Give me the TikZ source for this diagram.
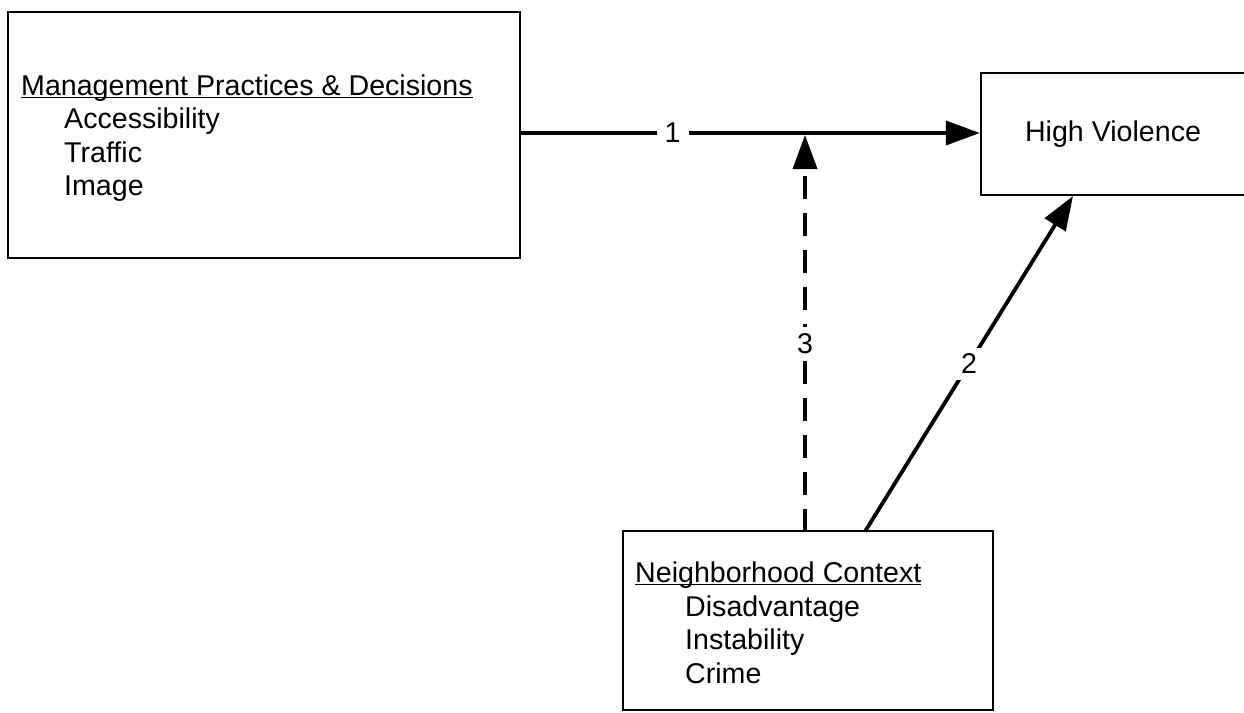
\documentclass[tikz,border=0pt]{standalone}
\usepackage{fontspec}
\setmainfont{Liberation Sans}
\usetikzlibrary{arrows.meta}
\newcommand\myul[1]{\setbox0\hbox{#1}\rlap{\rule[-3.2pt]{\wd0}{1.6pt}}\box0}
\begin{document}
\begin{tikzpicture}[x=1pt,y=-1pt,
  box/.style={draw,line width=2.4pt,rectangle,inner sep=0pt},
  txt/.style={anchor=base west,inner sep=0pt,font=\fontsize{28.6}{33}\selectfont},
  lbl/.style={fill=white,inner sep=6pt,font=\fontsize{28.6}{33}\selectfont},
  conn/.style={line width=3.8pt,-{Triangle[length=34pt,width=24pt]}},
  dconn/.style={conn,dash pattern=on 23pt off 14pt}]
\useasboundingbox (0,0) rectangle (1244,712);
\clip (0,0) rectangle (1244,712);
\fill[white] (0,0) rectangle (1244,712);
% boxes
\node[box,minimum width=512pt,minimum height=246pt] (mgmt) at (264,135) {};
\node[box,minimum width=290pt,minimum height=122pt] (hv) at (1126,134) {};
\node[box,minimum width=370pt,minimum height=179pt] (nb) at (808,620.5) {};
% texts
\node[txt] (m0) at (21,95) {\myul{Management Practices \& Decisions}};
\node[txt] (m1) at (64,128) {Accessibility};
\node[txt] (m2) at (64,162) {Traffic};
\node[txt] (m3) at (64,195) {Image};
\node[font=\fontsize{28.6}{33}\selectfont,inner sep=0pt] (hvtxt) at (1113,134) {High Violence};
\node[txt] (n0) at (635,582) {\myul{Neighborhood Context}};
\node[txt] (n1) at (685,616) {Disadvantage};
\node[txt] (n2) at (685,649) {Instability};
\node[txt] (n3) at (685,683) {Crime};
% connectors
\coordinate (nbtop3) at (805,531.5);
\coordinate (nbtop2) at (865,531.5);
\coordinate (hvbot) at (1073,196);
\coordinate (mid) at (805,135);
\draw[conn] (mgmt.east |- 0,133) -- node[lbl,pos=0.33,inner xsep=8pt] (l1) {1} (hv.west |- 0,133);
\draw[dconn] (nbtop3) -- node[lbl,pos=0.475] (l3) {3} (mid);
\draw[conn] (nbtop2) -- node[lbl,pos=0.5] (l2) {2} (hvbot);
\end{tikzpicture}
\end{document}
